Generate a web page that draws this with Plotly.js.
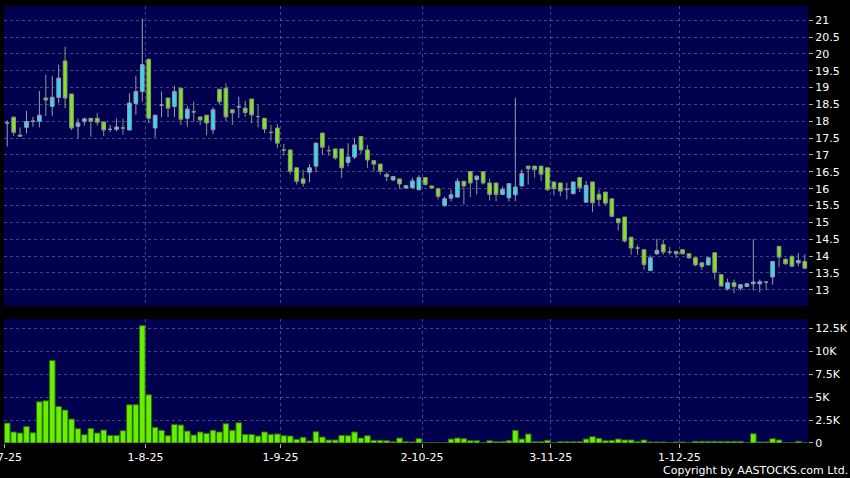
<!DOCTYPE html>
<html>
<head>
<meta charset="utf-8">
<script src="https://cdn.plot.ly/plotly-3.0.1.min.js"></script>
<style>
html,body{margin:0;padding:0;background:#000;}
#chart{width:850px;height:478px;}
</style>
</head>
<body>
<div id="chart"></div>
<script>
// Trading calendar (HK): weekdays from 2 Jul 2025 to 30 Dec 2025, minus exchange holidays
const startDate = '2025-07-02';
const endDate = '2025-12-30';
const holidays = ['2025-10-01', '2025-10-07', '2025-10-29', '2025-12-25', '2025-12-26'];

// OHLC (one per trading day)
const open = [17.95,18.12,17.59,17.82,18.00,18.00,18.69,18.44,18.71,19.79,
  18.81,17.85,18.00,18.09,18.09,17.98,17.76,17.76,17.80,17.74,
  18.53,18.88,19.84,17.80,18.48,18.69,18.44,18.98,18.09,18.28,
  18.13,18.18,17.75,18.95,18.98,18.34,18.43,18.39,18.66,18.14,
  18.09,17.67,17.80,17.15,17.15,16.62,16.29,16.49,16.67,17.65,
  17.13,17.18,17.18,16.78,16.94,17.55,17.15,16.83,16.73,16.42,
  16.26,16.29,16.02,16.03,15.97,16.33,16.08,16.00,15.50,15.72,
  15.75,16.22,16.51,16.27,16.50,16.17,16.17,15.83,15.73,15.82,
  16.08,16.67,16.67,16.67,16.62,16.20,16.17,15.98,15.85,16.33,
  15.60,16.20,15.83,15.90,15.70,15.11,15.16,14.56,14.24,14.19,
  13.57,14.07,14.34,14.12,14.14,14.19,14.07,13.95,13.80,13.74,
  14.10,13.45,13.03,13.21,13.05,13.10,13.18,13.18,13.23,13.38,
  14.29,13.90,13.99,13.80,13.84];
const high = [18.03,18.15,17.82,18.31,18.13,18.90,19.38,19.35,19.68,20.21,
  18.81,18.08,18.11,18.10,18.25,17.98,17.89,18.08,18.08,18.83,
  19.35,21.05,19.86,18.18,18.88,18.69,19.05,18.98,18.46,18.59,
  18.13,18.18,18.41,18.95,19.12,18.34,18.73,18.61,18.66,18.49,
  18.09,17.89,17.92,17.33,17.15,16.62,16.56,16.73,17.37,17.65,
  17.28,17.18,17.18,17.35,17.50,17.55,17.30,16.85,16.73,16.49,
  16.38,16.29,16.10,16.33,16.40,16.33,16.10,16.00,15.77,15.98,
  16.31,16.22,16.51,16.40,16.51,16.30,16.17,16.07,16.15,18.70,
  16.57,16.67,16.67,16.67,16.62,16.20,16.17,16.18,16.20,16.33,
  16.23,16.20,15.97,15.90,15.70,15.11,15.16,14.56,14.34,14.19,
  14.02,14.51,14.49,14.27,14.14,14.19,14.07,13.95,13.80,13.95,
  14.10,13.45,13.33,13.30,13.15,13.20,14.50,13.30,13.24,13.84,
  14.29,13.95,14.03,14.09,14.05];
const low = [17.25,17.57,17.55,17.64,17.84,17.82,18.16,18.16,18.53,18.39,
  17.74,17.49,17.87,17.54,17.87,17.56,17.67,17.70,17.60,17.74,
  18.19,18.58,17.94,17.52,18.12,18.12,18.13,17.89,17.84,17.99,
  17.89,17.59,17.62,18.49,18.00,17.89,18.10,18.13,17.94,17.82,
  17.65,17.42,17.20,16.98,16.42,16.12,16.06,16.19,16.49,17.00,
  16.98,16.86,16.32,16.66,16.88,17.03,16.62,16.51,16.42,16.22,
  16.22,16.00,16.00,16.00,15.95,16.10,16.00,15.68,15.46,15.62,
  15.73,15.53,15.75,15.83,16.12,15.65,15.62,15.83,15.62,15.63,
  16.07,16.12,16.33,16.23,15.93,15.80,15.78,15.68,15.85,15.90,
  15.60,15.31,15.50,15.52,15.16,14.76,14.40,14.04,14.04,13.60,
  13.55,14.04,14.04,14.04,13.94,14.05,13.92,13.70,13.59,13.72,
  13.31,13.11,12.98,12.90,12.98,13.08,12.98,12.93,13.00,13.15,
  13.67,13.75,13.68,13.70,13.62];
const close = [17.95,17.67,17.56,17.99,18.00,18.18,18.63,18.71,19.28,18.69,
  17.80,17.95,18.07,18.00,17.97,17.74,17.76,17.83,17.80,18.54,
  18.88,19.68,18.09,18.18,18.48,18.39,18.88,18.06,18.36,18.28,
  18.04,17.95,18.34,18.58,18.13,18.25,18.43,18.26,18.19,18.14,
  17.77,17.67,17.35,17.15,16.52,16.22,16.16,16.62,17.35,17.23,
  17.13,16.91,16.62,16.94,17.30,17.15,16.85,16.73,16.52,16.36,
  16.36,16.14,16.09,16.23,16.33,16.12,16.02,15.77,15.70,15.82,
  16.22,16.08,16.17,16.37,16.17,15.83,15.83,15.98,16.15,16.05,
  16.45,16.59,16.57,16.43,15.97,16.00,15.93,15.98,16.20,16.03,
  16.10,15.58,15.68,15.57,15.18,14.99,14.45,14.24,14.24,13.75,
  13.95,14.17,14.12,14.12,14.07,14.07,13.95,13.74,13.69,13.95,
  13.52,13.11,13.21,13.10,13.15,13.18,13.23,13.24,13.23,13.84,
  13.97,13.77,13.70,13.87,13.64];
// Volume in thousands of shares
const volumeK = [2.17,1.20,1.09,1.81,1.12,4.49,4.60,8.99,3.99,3.59,
  2.61,1.56,0.91,1.59,1.09,1.41,0.83,0.83,1.34,4.17,
  4.17,12.79,5.25,1.70,1.38,0.80,2.03,1.96,1.30,0.87,
  1.20,1.05,1.38,1.20,2.10,1.38,2.21,0.94,0.94,0.76,
  1.20,0.94,0.98,0.80,0.76,0.40,0.62,0.22,1.23,0.65,
  0.33,0.33,0.83,0.80,1.20,0.54,0.80,0.29,0.29,0.25,
  0.14,0.54,0.14,0.11,0.47,0.04,0.04,0.04,0.04,0.43,
  0.54,0.47,0.25,0.25,0.04,0.25,0.14,0.14,0.25,1.38,
  0.43,0.98,0.14,0.14,0.29,0.04,0.14,0.14,0.14,0.14,
  0.43,0.69,0.51,0.25,0.29,0.43,0.33,0.33,0.14,0.33,
  0.11,0.11,0.11,0.04,0.11,0.11,0.04,0.18,0.18,0.18,
  0.18,0.18,0.18,0.18,0.18,0.04,1.01,0.11,0.11,0.47,
  0.33,0.03,0.03,0.18,0.03];

const volTickVals = [0, 2.5, 5, 7.5, 10, 12.5];
const volTickText = ['0', '2.5K', '5K', '7.5K', '10K', '12.5K'];

// Build trading days
function buildDays() {
  const out = [];
  const d = new Date(startDate + 'T00:00:00Z');
  const end = new Date(endDate + 'T00:00:00Z');
  while (d <= end) {
    const iso = d.toISOString().slice(0, 10);
    const wd = d.getUTCDay();
    if (wd !== 0 && wd !== 6 && holidays.indexOf(iso) < 0) out.push(iso);
    d.setUTCDate(d.getUTCDate() + 1);
  }
  return out;
}
const days = buildDays();
const idx = days.map((_, i) => i);
const tickPos = [], tickLab = [];
days.forEach((iso, i) => {
  const m = iso.slice(5, 7);
  if (i === 0 || days[i - 1].slice(5, 7) !== m) {
    tickPos.push(i - 0.5);
    tickLab.push(parseInt(iso.slice(8, 10)) + '-' + parseInt(m) + '-' + iso.slice(2, 4));
  }
});

const FONT = 'DejaVu Sans, Verdana, sans-serif';
const GRID = 'rgba(140,140,190,0.5)';
const BG = '#00004e';

const candle = {
  type: 'candlestick',
  x: idx, open: open, high: high, low: low, close: close,
  xaxis: 'x2', yaxis: 'y2',
  increasing: {line: {color: '#9c9cae', width: 1}, fillcolor: '#2fdcee'},
  decreasing: {line: {color: '#8a9a80', width: 1}, fillcolor: '#80e41e'},
  whiskerwidth: 0,
  hoverinfo: 'none',
  showlegend: false
};
const vol = {
  type: 'bar',
  x: idx, y: volumeK,
  xaxis: 'x', yaxis: 'y',
  marker: {color: '#66f000', line: {color: '#2f6a10', width: 1}},
  hoverinfo: 'none',
  showlegend: false
};

const xcommon = {
  range: [-0.5, days.length - 0.5],
  tickmode: 'array', tickvals: tickPos, ticktext: tickLab,
  showgrid: true, gridcolor: GRID, griddash: '3px,3px', gridwidth: 1,
  zeroline: false, showline: false, fixedrange: true
};

const layout = {
  width: 850, height: 478,
  margin: {l: 4, r: 42, t: 6, b: 35},
  paper_bgcolor: '#000000',
  plot_bgcolor: BG,
  font: {family: FONT, color: '#ffffff', size: 11},
  boxgap: 0.18,
  bargap: 0.12,
  xaxis: Object.assign({}, xcommon, {
    anchor: 'y', domain: [0, 1],
    ticks: 'outside', ticklen: 4, tickcolor: '#b0b0b0',
    ticklabeloverflow: 'allow',
    tickfont: {family: FONT, size: 11, color: '#ffffff'}
  }),
  xaxis2: Object.assign({}, xcommon, {
    anchor: 'y2', domain: [0, 1], matches: 'x',
    showticklabels: false, ticks: '',
    rangeslider: {visible: false}
  }),
  yaxis: {
    anchor: 'x', domain: [0, 0.283], side: 'right',
    range: [0, 13.48],
    tickmode: 'array', tickvals: volTickVals, ticktext: volTickText,
    ticks: 'outside', ticklen: 4, tickcolor: '#b0b0b0',
    showgrid: true, gridcolor: GRID, griddash: '3px,3px',
    zeroline: false, showline: false, fixedrange: true,
    tickfont: {family: FONT, size: 11, color: '#ffffff'}
  },
  yaxis2: {
    anchor: 'x2', domain: [0.3135, 1], side: 'right',
    range: [12.52, 21.42],
    tick0: 13, dtick: 0.5,
    ticks: 'outside', ticklen: 4, tickcolor: '#b0b0b0',
    showgrid: true, gridcolor: GRID, griddash: '3px,3px',
    zeroline: false, showline: false, fixedrange: true,
    tickfont: {family: FONT, size: 11, color: '#ffffff'}
  },
  annotations: [{
    text: 'Copyright by AASTOCKS.com Ltd.',
    xref: 'paper', yref: 'paper', x: 1.052, y: -0.0618,
    xanchor: 'right', yanchor: 'middle', showarrow: false,
    font: {family: FONT, size: 11, color: '#ffffff'}
  }]
};

Plotly.newPlot('chart', [vol, candle], layout, {staticPlot: true, displayModeBar: false});
</script>
</body>
</html>
